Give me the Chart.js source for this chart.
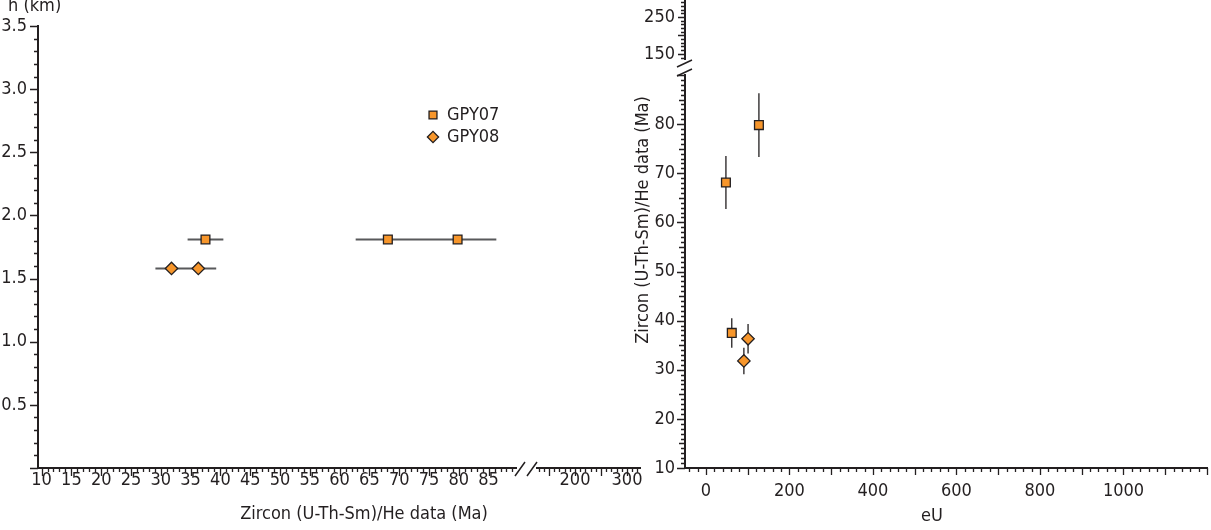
<!DOCTYPE html>
<html lang="en">
<head>
<meta charset="UTF-8">
<title>Zircon (U-Th-Sm)/He data</title>
<script src="https://cdn.jsdelivr.net/npm/chart.js"></script>
<style>
  body { margin: 0; background: #fff; }
  #wrap { position: relative; width: 1211px; height: 530px; overflow: hidden; }
  #ageHeight { position: absolute; left: 0; top: 0; }
  #ageEu { position: absolute; left: 620px; top: 0; }
</style>
</head>
<body>
<div id="wrap">
  <canvas id="ageHeight" width="660" height="530"></canvas>
  <canvas id="ageEu" width="591" height="530"></canvas>
</div>
<script>
// GPY07 aliquots
const gpy07Age = [37.5, 68.1, 79.8];
const gpy07Err = [3.0, 5.4, 6.5];
const gpy07H = [1.81, 1.81, 1.81];
const gpy07EU = [62, 48, 127];

// GPY08 aliquots
const gpy08Age = [31.8, 36.3];
const gpy08Err = [2.7, 3.0];
const gpy08H = [1.58, 1.58];
const gpy08EU = [91, 101];

// tick labels
const hTicks = [0.5, 1.0, 1.5, 2.0, 2.5, 3.0, 3.5];
const ageTicksLow = [10, 15, 20, 25, 30, 35, 40, 45, 50, 55, 60, 65, 70, 75, 80, 85];
const ageTicksHigh = [200, 300];
const ageTicksY = [10, 20, 30, 40, 50, 60, 70, 80];
const ageTicksYHigh = [150, 250];
const euTicks = [0, 200, 400, 600, 800, 1000];

const INK = '#231F20';
const ORANGE = '#F7962B';
const FONT = "'Liberation Sans Narrow', 'Arial Narrow', 'DejaVu Sans Condensed', sans-serif";
const FSIZE = 18;

Chart.defaults.font.family = FONT;
Chart.defaults.font.size = FSIZE;
Chart.defaults.color = INK;

function fixedTicks(values) {
    return scale => { scale.ticks = values.map(v => ({ value: v })); };
}

function fitScale(w, h) {
    return scale => {
        if (w !== undefined) scale.width = w;
        if (h !== undefined) scale.height = h;
        scale.paddingTop = scale.paddingBottom = scale.paddingLeft = scale.paddingRight = 0;
    };
}

// linear axis with fixed tick labels, no built-in tick marks
function axis(extra, labels, fmt, pad) {
    return Object.assign({
        type: 'linear',
        grid: { display: false, drawTicks: false },
        border: { color: INK, width: 2 },
        afterBuildTicks: fixedTicks(labels),
        ticks: { padding: pad, autoSkip: false, maxRotation: 0, callback: fmt }
    }, extra);
}

function gapAxis(extra) {
    return Object.assign({
        type: 'linear', min: 0, max: 1,
        grid: { display: false, drawTicks: false },
        border: { display: false },
        ticks: { display: false }
    }, extra);
}

// minor / major tick marks drawn along the scales
function tickMarks(specs) {
    return {
        id: 'tickMarks',
        afterDraw(chart) {
            const ctx = chart.ctx;
            ctx.save();
            ctx.strokeStyle = INK;
            ctx.lineWidth = 1.3;
            specs.forEach(s => {
                const scale = chart.scales[s.id];
                const n = Math.round((s.to - s.from) / s.step);
                ctx.beginPath();
                for (let k = 0; k <= n; k++) {
                    const v = s.from + k * s.step;
                    const r = v / s.major;
                    let len = s.short;
                    if (Math.abs(r - Math.round(r)) < 1e-6) len = s.long;
                    else if (s.mid && Math.abs(v / s.mid - Math.round(v / s.mid)) < 1e-6) len = s.midLen;
                    const p = Math.round(scale.getPixelForValue(v)) + 0.5;
                    if (scale.isHorizontal()) {
                        ctx.moveTo(p, scale.top);
                        ctx.lineTo(p, scale.top + len);
                    } else {
                        ctx.moveTo(scale.right, p);
                        ctx.lineTo(scale.right - len, p);
                    }
                }
                ctx.stroke();
            });
            ctx.restore();
        }
    };
}

function errorBars(dir, color, width) {
    return {
        id: 'errorBars',
        beforeDatasetsDraw(chart) {
            const ctx = chart.ctx;
            ctx.save();
            ctx.strokeStyle = color;
            ctx.lineWidth = width;
            chart.data.datasets.forEach((ds, i) => {
                const meta = chart.getDatasetMeta(i);
                const xs = meta.xScale, ys = meta.yScale;
                ctx.beginPath();
                ds.data.forEach(p => {
                    if (dir === 'x') {
                        const y = ys.getPixelForValue(p.y);
                        ctx.moveTo(xs.getPixelForValue(p.x - p.err), y);
                        ctx.lineTo(xs.getPixelForValue(p.x + p.err), y);
                    } else {
                        const x = xs.getPixelForValue(p.x);
                        ctx.moveTo(x, ys.getPixelForValue(p.y - p.err));
                        ctx.lineTo(x, ys.getPixelForValue(p.y + p.err));
                    }
                });
                ctx.stroke();
            });
            ctx.restore();
        }
    };
}

function texts(items) {
    return {
        id: 'texts',
        afterDraw(chart) {
            const ctx = chart.ctx;
            ctx.save();
            ctx.fillStyle = INK;
            ctx.font = FSIZE + 'px ' + FONT;
            items.forEach(t => {
                ctx.save();
                ctx.translate(t.x, t.y);
                if (t.rot) ctx.rotate(t.rot);
                ctx.textAlign = t.align || 'center';
                ctx.textBaseline = t.base || 'middle';
                ctx.fillText(t.text, 0, 0);
                ctx.restore();
            });
            ctx.restore();
        }
    };
}

const breakMarks = (id) => ({
    id: 'breakMarks',
    afterDraw(chart) {
        const s = chart.scales[id];
        const ctx = chart.ctx;
        ctx.save();
        ctx.strokeStyle = INK;
        ctx.lineWidth = 1.5;
        ctx.beginPath();
        if (s.isHorizontal()) {
            const y0 = s.top;
            ctx.moveTo(s.left - 1, y0 + 8); ctx.lineTo(s.left + 9, y0 - 6);
            ctx.moveTo(s.right - 10, y0 + 8); ctx.lineTo(s.right, y0 - 6);
        } else {
            const a = s.right;
            ctx.moveTo(a - 8, s.top + 8); ctx.lineTo(a + 7, s.top + 1);
            ctx.moveTo(a - 8, s.bottom + 1); ctx.lineTo(a + 7, s.bottom - 6);
        }
        ctx.stroke();
        ctx.restore();
    }
});

const legendBox = {
    id: 'legendBox',
    afterDraw(chart) {
        const ctx = chart.ctx;
        const x0 = chart.chartArea.left + 395, y0 = chart.chartArea.top + 89;
        chart.data.datasets.forEach((ds, i) => {
            const y = y0 + i * 22;
            ctx.save();
            ctx.fillStyle = ds.backgroundColor;
            ctx.strokeStyle = ds.borderColor;
            ctx.lineWidth = ds.borderWidth;
            Chart.helpers.drawPoint(ctx, { pointStyle: ds.pointStyle, radius: ds.pointRadius - 0.6, borderWidth: ds.borderWidth, rotation: 0 }, x0, y);
            ctx.fillStyle = INK;
            ctx.font = FSIZE + 'px ' + FONT;
            ctx.textAlign = 'left';
            ctx.textBaseline = 'middle';
            ctx.fillText(ds.label, x0 + 14, y);
            ctx.restore();
        });
    }
};

const pointStyleOf = {
    GPY07: { pointStyle: 'rect', pointRadius: 6.2 },
    GPY08: { pointStyle: 'rectRot', pointRadius: 6.2 }
};

function dataset(label, xs, ys, errs) {
    return Object.assign({
        label: label,
        data: xs.map((v, i) => ({ x: v, y: ys[i], err: errs[i] })),
        backgroundColor: ORANGE,
        borderColor: INK,
        borderWidth: 1.3
    }, pointStyleOf[label]);
}

// left panel: elevation vs age
new Chart(document.getElementById('ageHeight'), {
    type: 'scatter',
    data: {
        datasets: [
            dataset('GPY07', gpy07Age, gpy07H, gpy07Err),
            dataset('GPY08', gpy08Age, gpy08H, gpy08Err)
        ]
    },
    options: {
        responsive: false,
        animation: false,
        layout: { autoPadding: false, padding: { top: 26, right: 20, left: 0, bottom: 0 } },
        plugins: { legend: { display: false }, tooltip: { enabled: false } },
        scales: {
            x: axis({ position: 'bottom', stack: 'age', stackWeight: 478, min: 9.4, max: 89.6,
                      afterFit: fitScale(undefined, 62) }, ageTicksLow, v => String(v), 2),
            xGap: gapAxis({ position: 'bottom', stack: 'age', stackWeight: 21, afterFit: fitScale(undefined, 62) }),
            x2: axis({ position: 'bottom', stack: 'age', stackWeight: 103, min: 127, max: 325,
                       afterFit: fitScale(undefined, 62) }, ageTicksHigh, v => String(v), 2),
            y: axis({ position: 'left', min: 0, max: 3.5, afterFit: fitScale(38) }, hTicks, v => v.toFixed(1), 11)
        }
    },
    plugins: [
        errorBars('x', '#58595B', 2),
        tickMarks([
            { id: 'y', from: 0, to: 3.5, step: 0.1, major: 0.5, long: 8, short: 4 },
            { id: 'x', from: 10, to: 89, step: 1, major: 5, long: 8, short: 4 },
            { id: 'x2', from: 130, to: 320, step: 10, major: 50, long: 8, short: 4 }
        ]),
        breakMarks('xGap'),
        legendBox,
        texts([
            { text: 'h (km)', x: 8, y: 11, align: 'left', base: 'alphabetic' },
            { text: 'Zircon (U-Th-Sm)/He data (Ma)', x: 364, y: 514 }
        ])
    ]
});

// right panel: age vs eU
new Chart(document.getElementById('ageEu'), {
    type: 'scatter',
    data: {
        datasets: [
            dataset('GPY07', gpy07EU, gpy07Age, gpy07Err),
            dataset('GPY08', gpy08EU, gpy08Age, gpy08Err)
        ]
    },
    options: {
        responsive: false,
        animation: false,
        layout: { autoPadding: false, padding: { top: 0, right: 4, left: 0, bottom: 0 } },
        plugins: { legend: { display: false }, tooltip: { enabled: false } },
        scales: {
            x: axis({ position: 'bottom', min: -50, max: 1200, afterFit: fitScale(undefined, 62) },
                    euTicks, v => String(v), 13),
            y: axis({ position: 'left', stack: 'age', stackWeight: 393, min: 10, max: 90,
                      afterFit: fitScale(65) }, ageTicksY, v => String(v), 10),
            yGap: gapAxis({ position: 'left', stack: 'age', stackWeight: 16, afterFit: fitScale(65) }),
            yHigh: axis({ position: 'left', stack: 'age', stackWeight: 59, min: 136, max: 296,
                          afterFit: fitScale(65) }, ageTicksYHigh, v => String(v), 10)
        }
    },
    plugins: [
        errorBars('y', INK, 1.3),
        tickMarks([
            { id: 'x', from: -40, to: 1200, step: 20, major: 100, long: 7, short: 4 },
            { id: 'y', from: 10, to: 90, step: 1, major: 10, mid: 5, long: 8, midLen: 6, short: 4 },
            { id: 'yHigh', from: 140, to: 290, step: 10, major: 50, long: 7, short: 4 }
        ]),
        breakMarks('yGap'),
        texts([
            { text: 'Zircon (U-Th-Sm)/He data (Ma)', x: 23, y: 220, rot: -Math.PI / 2 },
            { text: 'eU', x: 312, y: 516 }
        ])
    ]
});
</script>
</body>
</html>
